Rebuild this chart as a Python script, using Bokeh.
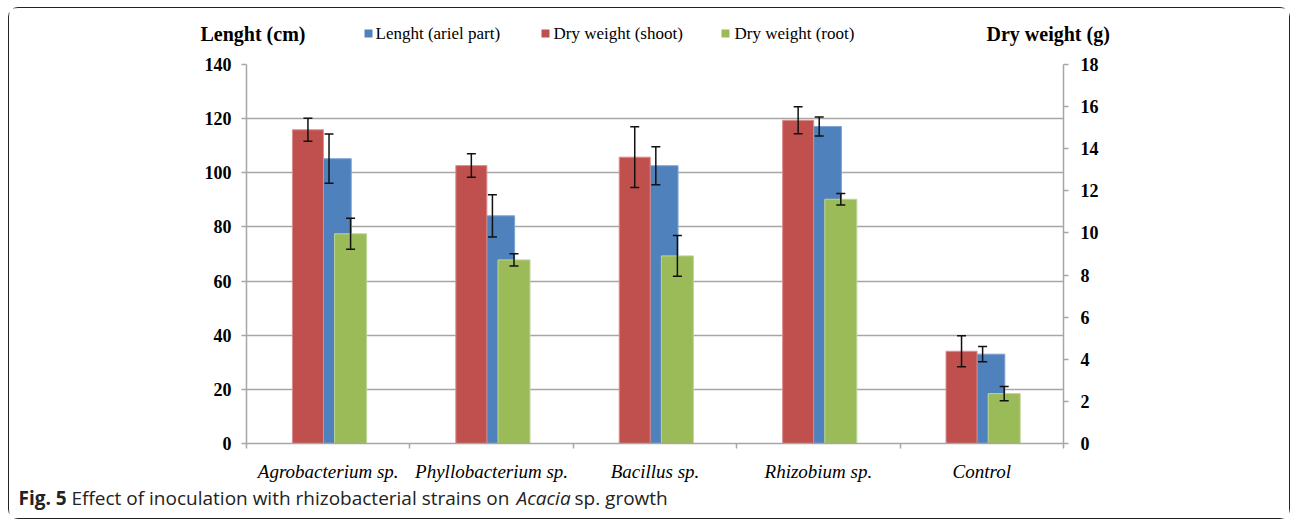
from bokeh.plotting import figure
from bokeh.layouts import column, row
from bokeh.models import (Range1d, LinearAxis, FixedTicker, ColumnDataSource,
                          Whisker, TeeHead, Label)
from bokeh.embed import file_html
from bokeh.resources import INLINE
import numpy as np

# ---------------- data ----------------
categories = ["Agrobacterium sp.", "Phyllobacterium sp.", "Bacillus sp.",
              "Rhizobium sp.", "Control"]
length_cm = [105.2, 84.1, 102.6, 117.1, 33.0]
length_err = [9.1, 7.8, 7.0, 3.5, 2.8]
shoot_g = [14.9, 13.2, 13.6, 15.35, 4.38]
shoot_err = [0.55, 0.56, 1.44, 0.64, 0.74]
root_g = [9.96, 8.72, 8.91, 11.6, 2.37]
root_err = [0.74, 0.29, 0.97, 0.27, 0.34]
left_ticks = [0, 20, 40, 60, 80, 100, 120, 140]
right_ticks = [0, 2, 4, 6, 8, 10, 12, 14, 16, 18]
legend_labels = ["Lenght (ariel part)", "Dry weight (shoot)", "Dry weight (root)"]
left_title = "Lenght (cm)"
right_title = "Dry weight (g)"

BLUE, RED, GREEN = "#4F81BD", "#C0504D", "#9BBB59"
GRAY = "#a6a6a6"
SERIF = "Liberation Serif"
CAPTION = "Open Sans"

W = 1280
H_HEAD, H_MAIN, H_FOOT = 40, 438, 32
ML, MR, MT, MB = 237, 226, 16, 43
FW, FH = W - ML - MR, H_MAIN - MT - MB   # 817 x 379


def blank(h):
    f = figure(width=W, height=h, x_range=Range1d(0, W), y_range=Range1d(h, 0),
               output_backend="svg", toolbar_location=None,
               x_axis_type=None, y_axis_type=None,
               min_border_left=0, min_border_right=0, min_border_top=0,
               min_border_bottom=0)
    f.xgrid.visible = False
    f.ygrid.visible = False
    f.outline_line_color = None
    f.background_fill_color = "white"
    f.border_fill_color = "white"
    return f


def lab(f, x, y, txt, font=SERIF, size="18px", style="normal", align="left", color="black"):
    f.add_layout(Label(x=x, y=y, text=txt, text_font=font, text_font_size=size,
                       text_font_style=style, text_align=align,
                       text_baseline="middle", text_color=color))


# ---------------- header: axis titles + legend ----------------
head = blank(H_HEAD)
lab(head, 191, 25, left_title, style="bold", size="20px")
lab(head, 977, 25, right_title, style="bold", size="20px")
head.scatter(x=[359, 536, 716], y=[25, 25, 25], marker="square", size=8,
             color=[BLUE, RED, GREEN], line_color=None)
for tx, txt in zip([366, 544, 725], legend_labels):
    lab(head, tx, 25, txt, size="17px")

# ---------------- main chart ----------------
p = figure(width=W, height=H_MAIN, x_range=Range1d(-0.5, 4.5), y_range=Range1d(0, 140),
           output_backend="svg", toolbar_location=None,
           min_border_left=ML, min_border_right=MR, min_border_top=MT,
           min_border_bottom=MB)
p.extra_y_ranges = {"g": Range1d(0, 18)}
p.outline_line_color = None
p.background_fill_color = "white"
p.border_fill_color = "white"

x = np.arange(len(categories))

# bars: primary (length) behind, secondary (dry weights) on top
p.vbar(x=x + 0.005, width=0.272, top=length_cm, fill_color=BLUE,
       line_color="#7ea3d1", line_width=1)
p.vbar(x=x - 0.124, width=0.19, top=shoot_g, fill_color=RED,
       line_color="#dc8f8d", line_width=1, y_range_name="g")
p.vbar(x=x + 0.137, width=0.196, top=root_g, fill_color=GREEN,
       line_color="#bdd496", line_width=1, y_range_name="g")


def add_err(xs, vals, errs, rng=None):
    src = ColumnDataSource(dict(x=xs, u=[v + e for v, e in zip(vals, errs)],
                                l=[v - e for v, e in zip(vals, errs)]))
    kw = {}
    if rng:
        kw["y_range_name"] = rng
    w = Whisker(source=src, base="x", upper="u", lower="l", line_color="#111",
                line_width=1.5, level="overlay",
                upper_head=TeeHead(size=9, line_width=1.5, line_color="#111"),
                lower_head=TeeHead(size=9, line_width=1.5, line_color="#111"), **kw)
    p.add_layout(w)


add_err(list(x + 0.005), length_cm, length_err)
add_err(list(x - 0.124), shoot_g, shoot_err, "g")
add_err(list(x + 0.137), root_g, root_err, "g")

p.xgrid.visible = False
p.ygrid.ticker = FixedTicker(ticks=left_ticks)
p.ygrid.grid_line_color = GRAY
p.ygrid.grid_line_width = 1.5


def style_y(ax, standoff):
    ax.axis_line_color = GRAY
    ax.axis_line_width = 1.5
    ax.major_tick_line_color = GRAY
    ax.major_tick_line_width = 1.5
    ax.major_tick_out = 5
    ax.major_tick_in = 0
    ax.minor_tick_line_color = None
    ax.major_label_standoff = standoff
    ax.major_label_text_font = SERIF
    ax.major_label_text_font_style = "bold"
    ax.major_label_text_font_size = "18px"
    ax.major_label_text_color = "black"


ya = p.yaxis[0]
ya.ticker = FixedTicker(ticks=left_ticks)
style_y(ya, 10)

ra = LinearAxis(y_range_name="g", ticker=FixedTicker(ticks=right_ticks))
style_y(ra, 12)
p.add_layout(ra, "right")

xa = p.xaxis[0]
xa.ticker = FixedTicker(ticks=list(x), minor_ticks=[i - 0.5 for i in range(len(categories) + 1)])
xa.major_label_overrides = {int(i): c for i, c in zip(x, categories)}
xa.axis_line_color = GRAY
xa.axis_line_width = 1.5
xa.major_tick_out = 0
xa.major_tick_in = 0
xa.minor_tick_line_color = GRAY
xa.minor_tick_line_width = 1.5
xa.minor_tick_out = 5
xa.minor_tick_in = 0
xa.major_label_standoff = 12
xa.major_label_text_font = SERIF
xa.major_label_text_font_style = "italic"
xa.major_label_text_font_size = "19px"
xa.major_label_text_color = "black"

# ---------------- footer: caption ----------------
foot = blank(H_FOOT)
lab(foot, 9, 11, "Fig. 5", font=CAPTION, size="19px", style="bold", color="#222")
lab(foot, 62, 11, "Effect of inoculation with rhizobacterial strains on", font=CAPTION,
    size="19px", color="#222")
lab(foot, 507, 11, "Acacia", font=CAPTION, size="19px", style="italic", color="#222")
lab(foot, 565, 11, "sp. growth", font=CAPTION, size="19px", color="#222")

page = column(row(head), row(p), row(foot), spacing=0)
page.styles = {"border": "1.5px solid #222", "border-radius": "10px",
               "margin-left": "8px", "margin-top": "7px"}

open("out.html", "w").write(file_html(page, INLINE))
